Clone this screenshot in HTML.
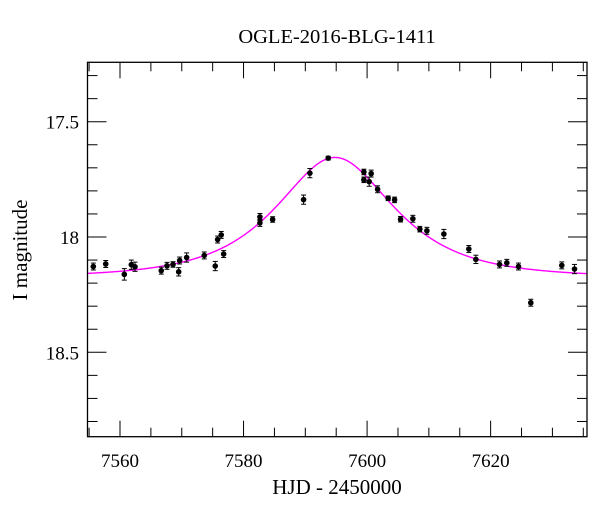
<!DOCTYPE html>
<html><head><meta charset="utf-8"><style>
html,body{margin:0;padding:0;background:#fff;}
svg{display:block;font-family:"Liberation Serif",serif;}
</style></head><body>
<svg id="chart" width="600" height="512" viewBox="0 0 600 512">
<text x="337" y="43" text-anchor="middle" font-size="20.5">OGLE-2016-BLG-1411</text>
<text x="337" y="494" text-anchor="middle" font-size="21">HJD - 2450000</text>
<text transform="translate(27,250) rotate(-90)" text-anchor="middle" font-size="21">I magnitude</text>
<g id="axes"></g><g id="curve"></g><g id="points"></g>
<rect x="87.5" y="62.3" width="499.5" height="374.4" fill="none" stroke="#000" stroke-width="1.3"/>
</svg>
<script>
const times=[7555.68,7557.69,7560.70,7561.83,7562.43,7566.68,7567.61,7568.58,7569.50,7569.66,7570.79,7573.64,7575.42,7575.81,7576.39,7576.78,7582.65,7582.65,7584.71,7589.72,7590.74,7593.71,7599.48,7599.48,7600.34,7600.66,7601.70,7603.41,7604.45,7605.42,7607.41,7608.54,7609.68,7612.43,7616.47,7617.61,7621.44,7622.62,7624.51,7626.50,7631.52,7633.58];
const mags=[18.128,18.117,18.162,18.120,18.129,18.146,18.125,18.119,18.151,18.102,18.089,18.080,18.126,18.011,17.991,18.074,17.913,17.939,17.924,17.838,17.723,17.658,17.718,17.752,17.760,17.725,17.793,17.832,17.839,17.923,17.921,17.966,17.973,17.987,18.052,18.097,18.119,18.112,18.128,18.285,18.123,18.139];
const errs=[0.015,0.015,0.025,0.02,0.02,0.015,0.015,0.012,0.018,0.015,0.02,0.015,0.02,0.015,0.015,0.015,0.015,0.015,0.012,0.02,0.02,0.008,0.012,0.012,0.02,0.015,0.015,0.01,0.012,0.012,0.015,0.012,0.015,0.02,0.015,0.018,0.015,0.015,0.015,0.015,0.015,0.02];
const xTicksMajor=[7560,7580,7600,7620];
const yTicksMajor=[17.5,18,18.5];
const t0=7594.8,tE=13.5,u0=0.74,I0=18.175;
const X0=87.5,X1=587,Y0=62.3,Y1=436.7,TMIN=7554.74,TMAX=7635.6,MMIN=17.2424,MMAX=18.866;
const sx=t=>X0+(t-TMIN)/(TMAX-TMIN)*(X1-X0);
const sy=m=>Y0+(m-MMIN)/(MMAX-MMIN)*(Y1-Y0);
const NS="http://www.w3.org/2000/svg";
function mk(tag,attrs,parent){const e=document.createElementNS(NS,tag);for(const k in attrs)e.setAttribute(k,attrs[k]);parent.appendChild(e);return e;}
const axes=document.getElementById('axes');
for(let t=7555;t<=7635;t+=5){
  const major=xTicksMajor.includes(t)||t%20===0;
  const L=major?16:9,x=sx(t);
  const a=mk('line',{x1:x,x2:x,y1:Y1,y2:Y1-L,stroke:'#000','stroke-width':1},axes);
  
  
  const b=mk('line',{x1:x,x2:x,y1:Y0,y2:Y0+L,stroke:'#000','stroke-width':1},axes);
  
  
}
xTicksMajor.forEach(t=>{
  const tx=mk('text',{x:sx(t),y:467,'text-anchor':'middle','font-size':19},axes);
  tx.textContent=t;
  
  
});
for(let i=0;i<=16;i++){
  const m=17.3+i*0.1;if(m>MMAX)break;
  const major=yTicksMajor.some(v=>Math.abs(v-m)<1e-6);
  const L=major?19:10,y=sy(m);
  const a=mk('line',{x1:X0,x2:X0+L,y1:y,y2:y,stroke:'#000','stroke-width':1},axes);
  
  
  const b=mk('line',{x1:X1,x2:X1-L,y1:y,y2:y,stroke:'#000','stroke-width':1},axes);
  
  
}
yTicksMajor.forEach(m=>{
  const tx=mk('text',{x:79,y:sy(m)+7,'text-anchor':'end','font-size':19},axes);
  tx.textContent=String(m);
  
  
});
function model(t){const tau=(t-t0)/tE;const u=Math.sqrt(u0*u0+tau*tau);const A=(u*u+2)/(u*Math.sqrt(u*u+4));return I0-2.5*Math.log10(A);}
let d='';
for(let x=X0;x<=X1;x+=1){const t=TMIN+(x-X0)/(X1-X0)*(TMAX-TMIN);d+=(d?'L':'M')+x.toFixed(1)+','+sy(model(t)).toFixed(2);}
const path=mk('path',{d:d,fill:'none',stroke:'#ff00ff','stroke-width':1.4},document.getElementById('curve'));


const pg=document.getElementById('points');
times.forEach((t,i)=>{
  const x=sx(t),y=sy(mags[i]),ya=sy(mags[i]-errs[i]),yb=sy(mags[i]+errs[i]);
  const g=mk('g',{},pg);
  
  
  mk('line',{x1:x,x2:x,y1:ya,y2:yb,stroke:'#000','stroke-width':1},g);
  mk('line',{x1:x-2.5,x2:x+2.5,y1:ya,y2:ya,stroke:'#000','stroke-width':1},g);
  mk('line',{x1:x-2.5,x2:x+2.5,y1:yb,y2:yb,stroke:'#000','stroke-width':1},g);
  mk('circle',{cx:x,cy:y,r:2.8,fill:'#000'},g);
});
</script>
</body></html>
